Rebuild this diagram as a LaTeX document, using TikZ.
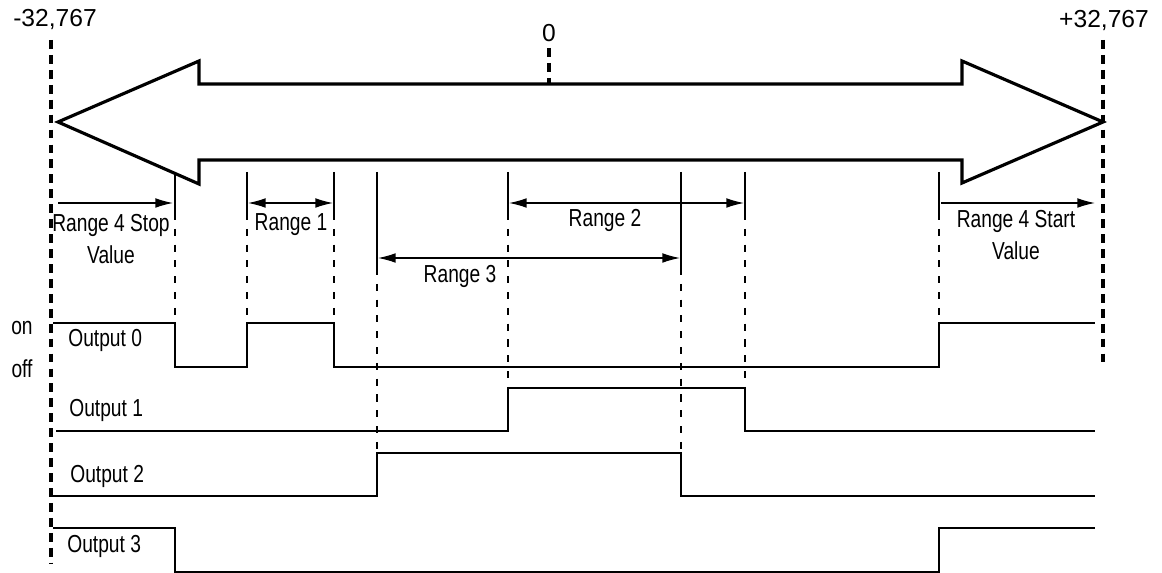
\documentclass[tikz,border=0pt]{standalone}
\usepackage{fontspec}
\setmainfont{Liberation Sans}
\newfontfamily\narrowfont{Liberation Sans}[FakeStretch=0.78]
\usetikzlibrary{arrows.meta}

\begin{document}
\begin{tikzpicture}[x=0.02cm, y=-0.02cm, >={Latex[length=10pt,width=5.5pt]},
    limit/.style={dash pattern=on 5pt off 3.5pt, line width=1.8pt},
    edge/.style={dash pattern=on 4pt off 5pt, line width=0.7pt},
    wave/.style={line width=0.8pt},
    lbl/.style={font=\narrowfont\fontsize{14}{16}\selectfont, align=center, inner sep=0pt}]
\useasboundingbox (0,0) rectangle (1162,573);

% end values of the scale
\node[font=\fontsize{14}{16}\selectfont] (min) at (55,19) {-32,767};
\node[font=\fontsize{14}{16}\selectfont] (max) at (1104,20) {+32,767};
\node[font=\fontsize{14}{16}\selectfont] (zero) at (549,33) {0};
\coordinate (min top) at (51,40);  \coordinate (min bot) at (51,563);
\coordinate (max top) at (1103,40); \coordinate (max bot) at (1103,363);
\draw[limit] (min top)--(min bot);
\draw[limit] (max top)--(max bot);
\draw[limit] (549,48)--(549,84);

% double arrow
\draw[line width=1.8pt] (58,122)--(199,61)--(199,84)--(962,84)--(962,61)--(1103,122)
    --(962,183)--(962,160)--(199,160)--(199,184)--cycle;

% range limits
\foreach \x/\y/\z in {175/213/323, 247/213/323, 334/213/323, 377/268/453,
                      508/213/388, 681/268/453, 745/213/388, 939/213/323}{
    \draw[line width=0.7pt] (\x,172)--(\x,\y);
    \draw[edge] (\x,\y)--(\x,\z);
}

% ranges
\coordinate (stop a) at (58,203);  \coordinate (stop b) at (173,203);
\coordinate (r1 a) at (248,203);   \coordinate (r1 b) at (333,203);
\coordinate (r2 a) at (509,203);   \coordinate (r2 b) at (744,203);
\coordinate (r3 a) at (378,258);   \coordinate (r3 b) at (680,258);
\coordinate (start a) at (941,203); \coordinate (start b) at (1095,203);
\draw[->, line width=0.7pt] (stop a)--(stop b);
\draw[<->, line width=0.7pt] (r1 a)--(r1 b);
\draw[<->, line width=0.7pt] (r2 a)--(r2 b);
\draw[<->, line width=0.7pt] (r3 a)--(r3 b);
\draw[->, line width=0.7pt] (start a)--(start b);
\node[lbl] (stop) at (111,239) {Range 4 Stop\\[2pt]Value};
\node[lbl] (range1) at (291,225) {Range 1};
\node[lbl] (range2) at (605,220) {Range 2};
\node[lbl] (range3) at (460,276) {Range 3};
\node[lbl] (start) at (1016,235) {Range 4 Start\\[2pt]Value};

% outputs
\node[lbl] (on) at (22,328) {on};
\node[lbl] (off) at (22,369) {off};
\draw[wave] (53,323) -| (175,367) -| (247,323) -| (334,367) -| (939,323) -- (1095,323);
\draw[wave] (56,431) -| (508,388) -| (745,431) -- (1095,431);
\draw[wave] (53,496) -| (377,453) -| (681,496) -- (1095,496);
\draw[wave] (53,528) -| (175,572) -| (939,528) -- (1095,528);
\node[lbl, anchor=west] (out0) at (68,340) {Output 0};
\node[lbl, anchor=west] (out1) at (69,410) {Output 1};
\node[lbl, anchor=west] (out2) at (70,476) {Output 2};
\node[lbl, anchor=west] (out3) at (67,546) {Output 3};
\end{tikzpicture}
\end{document}
